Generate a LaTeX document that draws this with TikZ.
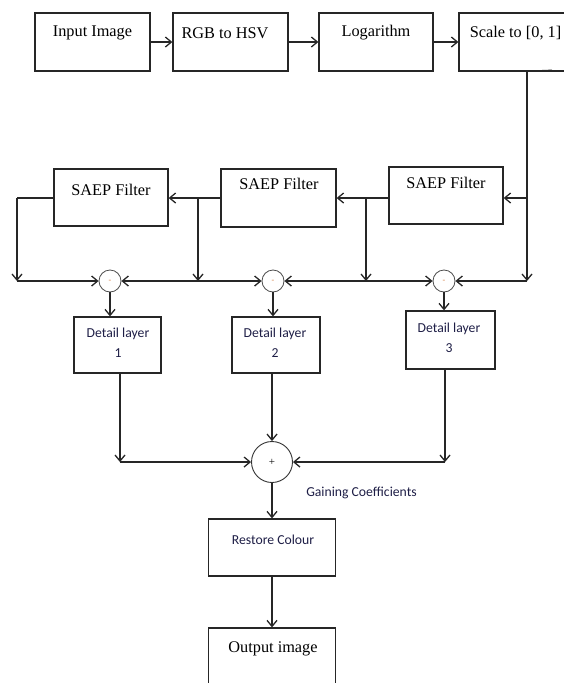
\documentclass[tikz,border=0pt]{standalone}
\usepackage{fontspec}
\setmainfont{Liberation Serif}
\newfontfamily\calibfont{Carlito}
\usetikzlibrary{arrows.meta,calc}
\tikzset{
  box/.style={draw=black!85, line width=1.3pt, rectangle, inner sep=0pt},
  sertext/.style={font=\fontsize{16.3}{18}\selectfont, inner sep=0pt, text=black},
  caltext/.style={font=\calibfont\fontsize{13.7}{20}\selectfont, inner sep=0pt, text={rgb,255:red,30;green,30;blue,70}, align=center},
  conn/.style={draw=black!85, line width=1.3pt},
  arr/.style={conn, -{Straight Barb[length=6pt,width=10pt]}},
  darr/.style={conn, {Straight Barb[length=6pt,width=10pt]}-{Straight Barb[length=6pt,width=10pt]}},
  diffc/.style={circle, draw=black!70, line width=0.8pt, minimum size=22pt, inner sep=0pt},
  sumc/.style={circle, draw=black!80, line width=0.9pt, minimum size=41pt, inner sep=0pt},
  minusmark/.style={font=\fontsize{8}{8}\selectfont, text={rgb,255:red,210;green,120;blue,60}, inner sep=0pt},
}
\begin{document}
\begin{tikzpicture}[x=1pt,y=-1pt]
\useasboundingbox (0,0) rectangle (564,683);
\clip (0,0) rectangle (564,683);

% top row
\node[box, minimum width=115pt, minimum height=58pt] (in)  at (92.5,42) {};
\node[box, minimum width=115pt, minimum height=58pt] (rgb) at (230.5,42) {};
\node[box, minimum width=114pt, minimum height=58pt] (log) at (376,42) {};
\node[box, minimum width=115pt, minimum height=58pt] (sc)  at (516.5,42) {};
\node[sertext] (inT)  at (92.5,33) {Input Image};
\node[sertext] (rgbT) at (225,33) {RGB to HSV};
\node[sertext] (logT) at (376,33) {Logarithm};
\node[sertext] (scT)  at (515.5,33) {Scale to [0, 1]};
\draw[arr] (in.east) -- (rgb.west);
\draw[arr] (rgb.east) -- (log.west);
\draw[arr] (log.east) -- (sc.west);

% SAEP filters
\node[box, minimum width=114pt, minimum height=57pt] (s1) at (111,197.5) {};
\node[box, minimum width=115pt, minimum height=58pt] (s2) at (278.5,198) {};
\node[box, minimum width=114pt, minimum height=57pt] (s3) at (446,195.5) {};
\node[sertext] (s1T) at (111,190) {SAEP Filter};
\node[sertext] (s2T) at (279,184) {SAEP Filter};
\node[sertext] (s3T) at (446,183) {SAEP Filter};

% difference circles
\node[diffc] (c1) at (110,281) {};
\node[diffc] (c2) at (273,281) {};
\node[diffc] (c3) at (444,281) {};
\node[minusmark] (c1m) at (c1) {-};
\node[minusmark] (c2m) at (c2) {-};
\node[minusmark] (c3m) at (c3) {-};

% routing coordinates
\coordinate (r0) at (527,71);
\coordinate (r1) at (527,198);
\coordinate (r2) at (527,281);
\coordinate (l1) at (17,198);
\coordinate (l2) at (17,281);
\coordinate (b2a) at (198,198);
\coordinate (b2b) at (198,281);
\coordinate (b3a) at (366,198);
\coordinate (b3b) at (366,281);
\coordinate (tk) at (552,70);

\draw[conn] (r0) -- (r1);
\draw[conn, line width=0.8pt] (r0) -- (tk);
\draw[arr] (r1) -- (r1 -| s3.east);
\draw[arr] (r1) -- (r2);
\draw[arr] (r2) -- (c3.east);

\draw[arr] (s3.west |- r1) -- (s3.west |- r1 -| s2.east);
\draw[arr] (b3a) -- (b3b);
\draw[arr] (s2.west |- r1) -- (s2.west |- r1 -| s1.east);
\draw[arr] (b2a) -- (b2b);
\draw[conn] (s1.west |- l1) -- (l1);
\draw[arr] (l1) -- (l2);
\draw[arr] (l2) -- (c1.west);
\draw[darr] (c1.east) -- (c2.west);
\draw[darr] (c2.east) -- (c3.west);

% detail layers
\node[box, minimum width=87pt, minimum height=56pt] (d1) at (117.5,345) {};
\node[box, minimum width=88pt, minimum height=56pt] (d2) at (276,345) {};
\node[box, minimum width=89pt, minimum height=58pt] (d3) at (450.5,340) {};
\node[caltext] (d1T) at (118,343) {Detail layer\\1};
\node[caltext] (d2T) at (275,343) {Detail layer\\2};
\node[caltext] (d3T) at (449,338) {Detail layer\\3};
\draw[arr] (c1.south) -- (c1.south |- d1.north);
\draw[arr] (c2.south) -- (c2.south |- d2.north);
\draw[arr] (c3.south) -- (c3.south |- d3.north);

% sum
\node[sumc] (sum) at (272,462) {};
\node[font=\fontsize{11}{11}\selectfont, inner sep=0pt] (sumT) at (sum) {+};
\coordinate (j1) at (120,462);
\coordinate (j3) at (445,462);
\draw[arr] (j1 |- d1.south) -- (j1);
\draw[arr] (j1) -- (sum.west);
\draw[arr] (sum.north |- d2.south) -- (sum.north);
\draw[arr] (j3 |- d3.south) -- (j3);
\draw[arr] (j3) -- (sum.east);

\node[caltext] (gc) at (361.5,493) {Gaining Coefficients};

% restore + output
\node[box, minimum width=127pt, minimum height=57pt] (rc) at (272,547.5) {};
\node[caltext] (rcT) at (273,540) {Restore Colour};
\node[box, minimum width=127pt, minimum height=62pt] (out) at (272,659) {};
\node[sertext] (outT) at (273,649) {Output image};
\draw[arr] (sum.south) -- (sum.south |- rc.north);
\draw[arr] (rc.south) -- (rc.south |- out.north);
\end{tikzpicture}
\end{document}
